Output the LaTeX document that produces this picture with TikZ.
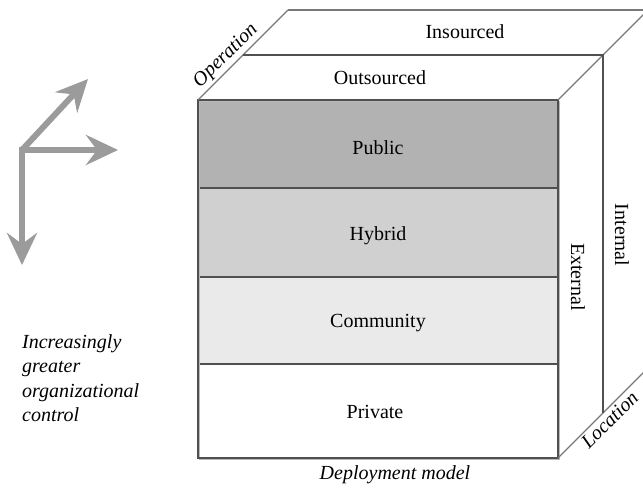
\documentclass[tikz,border=0pt]{standalone}
\usepackage{fontspec}
\setmainfont{Liberation Serif}
\usetikzlibrary{arrows.meta}
\definecolor{arrowgray}{RGB}{155,155,155}
\definecolor{edgedark}{RGB}{80,80,80}
\definecolor{edgegray}{RGB}{120,120,120}
\definecolor{shadowgray}{RGB}{185,185,185}
\definecolor{pubfill}{RGB}{178,178,178}
\definecolor{hybfill}{RGB}{208,208,208}
\definecolor{comfill}{RGB}{234,234,234}
\begin{document}
\begin{tikzpicture}[x=1pt,y=-1pt,
  txt/.style={font=\fontsize{20}{24}\selectfont, inner sep=0pt},
  itxt/.style={font=\fontsize{20}{24}\selectfont\itshape, inner sep=0pt},
  layer/.style={draw=edgedark, line width=1.8pt, minimum width=360pt, inner sep=0pt},
  frontedge/.style={draw=edgedark, line width=2.4pt},
  diag/.style={draw=edgegray, line width=1.3pt},
  inner/.style={draw=edgedark, line width=1.6pt},
  bigarrow/.style={draw=arrowgray, line width=6pt,
     -{Stealth[length=32pt,width=30pt,inset=11pt]}}
]
\useasboundingbox (0,0) rectangle (643,489);
% cube corners
\coordinate (F1) at (198,100);
\coordinate (F2) at (558,100);
\coordinate (F3) at (558,458);
\coordinate (F4) at (198,458);
\coordinate (M1) at (243,55);
\coordinate (M2) at (603,55);
\coordinate (M3) at (603,413);
\coordinate (B1) at (288,10);
\coordinate (B2) at (648,10);
\coordinate (B3) at (648,368);
% layers of the front face
\node[layer, fill=pubfill, minimum height=88pt] (public) at (378,144) {};
\node[layer, fill=hybfill, minimum height=89pt] (hybrid) at (378,232.5) {};
\node[layer, fill=comfill, minimum height=87pt] (community) at (378,320.5) {};
\node[layer, fill=white, minimum height=94pt] (private) at (378,411) {};
\node[txt] (tpublic) at (378,148) {Public};
\node[txt] (thybrid) at (378,236) {Hybrid};
\node[txt] (tcommunity) at (378,323) {Community};
\node[txt] (tprivate) at (375,412) {Private};
% shadow and front edge
\draw[draw=shadowgray, line width=1.5pt] ([shift={(1.5,1.5)}]F1) rectangle ([shift={(1.5,1.5)}]F3);
\draw[frontedge] (F1) rectangle (F3);
% top and side planes
\draw[diag] (F1) -- (B1);
\draw[draw=edgegray, line width=2pt] (B1) -- (B2);
\draw[diag] (F2) -- (B2);
\draw[diag] (F3) -- (B3);
\draw[inner] (M1) -- (M2) -- (M3);
% face labels
\node[txt] (insourced) at (465,32) {Insourced};
\node[txt] (outsourced) at (380,78) {Outsourced};
\node[txt, rotate=-90] (external) at (578,277) {External};
\node[txt, rotate=-90] (internal) at (622,235) {Internal};
\node[itxt, rotate=45, anchor=south, inner sep=2.5pt] (operation) at (234,64) {Operation};
\node[itxt, rotate=45, anchor=north, inner sep=2.5pt] (location) at (603,413) {Location};
\node[itxt] (deployment) at (395,475) {Deployment model};
% legend arrows
\coordinate (O) at (22,150);
\coordinate (Aup) at (88,79);
\coordinate (Aright) at (118,150);
\coordinate (Adown) at (22,265);
\draw[bigarrow] (O) -- (Aup);
\draw[bigarrow] ([xshift=-3pt]O) -- (Aright);
\draw[bigarrow] ([yshift=-3pt]O) -- (Adown);
\node[itxt, anchor=north west, align=left, font=\fontsize{20}{24.5}\selectfont\itshape] (legend) at (22,334)
  {Increasingly\\greater\\organizational\\control};
\end{tikzpicture}
\end{document}
